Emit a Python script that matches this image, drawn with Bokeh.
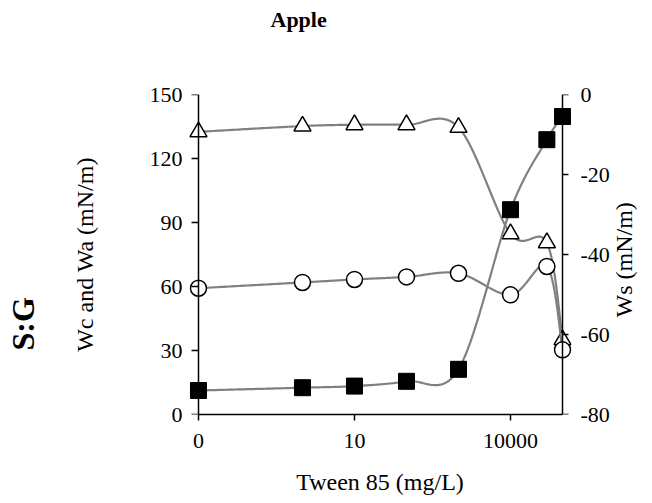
import math
import numpy as np
from bokeh.plotting import figure
from bokeh.models import Range1d, LinearAxis, FixedTicker, Title
from bokeh.embed import file_html
from bokeh.resources import INLINE

# Tween 85 concentration (mg/L); the 0 mg/L sample sits at 0.01 on the log axis
conc = [0.01, 1, 10, 100, 1000, 10000, 50000, 100000]
# work of adhesion / cohesion (left axis) and spreading coefficient (right axis), mN/m
wa = [132.5, 135.2, 135.8, 135.8, 134.6, 84.7, 80.5, 35.0]
wc = [59.2, 61.9, 63.3, 64.5, 66.2, 56.1, 69.4, 30.3]
ws = [-74.0, -73.3, -72.9, -71.7, -68.7, -28.8, -11.3, -5.5]

x_ticks = [0.01, 10, 10000]
x_tick_labels = ["0", "10", "10000"]
left_ticks = [0, 30, 60, 90, 120, 150]
right_ticks = [-80, -60, -40, -20, 0]
right_tick_labels = ["-80", "-60", "-40", "-20", "0"]

FONT = "Liberation Serif"
LINE = "#808080"
WS_TITLE_START = -55.75  # Ws value where the upright right-hand title begins


def smooth(xs, ys, n=40):
    """Catmull-Rom style smoothing in (log10 x, y) space."""
    P = np.column_stack([np.log10(xs), np.asarray(ys, float)])
    ext = np.vstack([P[0], P, P[-1]])
    out = []
    for i in range(len(P) - 1):
        p0, p1, p2, p3 = ext[i], ext[i + 1], ext[i + 2], ext[i + 3]
        c1 = p1 + (p2 - p0) / 6.0
        c2 = p2 - (p3 - p1) / 6.0
        t = np.linspace(0, 1, n, endpoint=(i == len(P) - 2))[:, None]
        seg = ((1 - t) ** 3) * p1 + 3 * ((1 - t) ** 2) * t * c1 + 3 * (1 - t) * t ** 2 * c2 + t ** 3 * p2
        out.append(seg)
    out = np.vstack(out)
    return 10 ** out[:, 0], out[:, 1]


# plot box: axes span 365 px; the frame gets a little room beyond them
AX_W = 365
PAD_L, PAD_R = 10, 9
decades = math.log10(conc[-1]) - math.log10(conc[0])

p = figure(
    width=652, height=503,
    x_axis_type="log",
    x_range=Range1d(10 ** (math.log10(conc[0]) - PAD_L * decades / AX_W),
                    10 ** (math.log10(conc[-1]) + PAD_R * decades / AX_W)),
    y_range=Range1d(0, 150),
    output_backend="svg", toolbar_location=None,
    min_border_left=198 - PAD_L, min_border_right=652 - 563 - PAD_R,
    min_border_top=94, min_border_bottom=89,
)
p.extra_y_ranges = {"ws": Range1d(-80, 0)}
p.outline_line_color = None
p.xgrid.visible = False
p.ygrid.visible = False
p.background_fill_color = "white"
p.border_fill_color = "white"

# chart title (blank lines keep it high above the plot)
p.title.text = "Apple\n \n "
p.title.align = "left"
p.title.offset = 82
p.title.vertical_align = "top"
p.title.text_font = FONT
p.title.text_font_size = "22px"
p.title.text_font_style = "bold"
p.title.text_color = "black"
p.title.text_line_height = 1.11
p.title.standoff = 10


def style_axis(ax):
    ax.axis_line_color = "black"
    ax.axis_line_width = 1.5
    ax.major_tick_line_color = "black"
    ax.major_tick_line_width = 1.5
    ax.major_tick_in = 0
    ax.major_tick_out = 7
    ax.minor_tick_in = 0
    ax.minor_tick_out = 0
    ax.major_label_text_font = FONT
    ax.major_label_text_font_size = "22px"
    ax.major_label_text_color = "black"
    ax.axis_label_text_font = FONT
    ax.axis_label_text_font_size = "24px"
    ax.axis_label_text_font_style = "normal"
    ax.axis_label_text_color = "black"


def labels_only(ax):
    ax.axis_line_color = None
    ax.major_tick_line_color = None
    ax.major_tick_out = 0


def lines_only(ax):
    ax.major_label_text_color = None
    ax.axis_label = None


# x axis
xa = p.xaxis[0]
style_axis(xa)
xa.ticker = FixedTicker(ticks=x_ticks)
xa.major_label_overrides = dict(zip(x_ticks, x_tick_labels))
xa.bounds = (conc[0], conc[-1])
xa.major_tick_out = 6
xa.major_label_standoff = 13
xa.axis_label = "Tween 85 (mg/L)"
xa.axis_label_standoff = 18

# left axis: labels at the panel edge, line and ticks at the first concentration
ya = p.yaxis[0]
style_axis(ya)
labels_only(ya)
ya.ticker = FixedTicker(ticks=left_ticks)
ya.major_label_standoff = 6
ya.axis_label = "Wc and Wa (mN/m)"
ya.axis_label_standoff = 49

ya_line = LinearAxis(ticker=FixedTicker(ticks=left_ticks), bounds=(0, 150),
                     fixed_location=conc[0])
style_axis(ya_line)
lines_only(ya_line)
p.add_layout(ya_line, "left")

# right axis (Ws): tick labels
ra = LinearAxis(y_range_name="ws", ticker=FixedTicker(ticks=right_ticks))
style_axis(ra)
labels_only(ra)
ra.major_label_overrides = dict(zip(right_ticks, right_tick_labels))
ra.major_label_standoff = 9
p.add_layout(ra, "right")

# right axis line and ticks at the last concentration
ra_line = LinearAxis(y_range_name="ws", ticker=FixedTicker(ticks=right_ticks),
                     bounds=(-80, 0), fixed_location=conc[-1])
style_axis(ra_line)
lines_only(ra_line)
ra_line.major_tick_out = 6
p.add_layout(ra_line, "right")

# right axis title, written upright (bottom to top) like the left one
ra_title = LinearAxis(y_range_name="ws", ticker=FixedTicker(ticks=[WS_TITLE_START]))
style_axis(ra_title)
labels_only(ra_title)
ra_title.major_label_overrides = {WS_TITLE_START: "Ws (mN/m)"}
ra_title.major_label_text_font_size = "24px"
ra_title.major_label_orientation = math.pi / 2
ra_title.major_label_standoff = 11
p.add_layout(ra_title, "right")

# row label
p.add_layout(Title(text="S:G\n ", align="left", offset=64, vertical_align="top",
                   text_font=FONT, text_font_size="32px", text_font_style="bold",
                   text_color="black", text_line_height=0.63, standoff=6), "left")

# Wa - open triangles
sx, sy = smooth(conc, wa)
p.line(sx, sy, line_color=LINE, line_width=2.2)
p.scatter(conc, wa, marker="triangle", size=17, fill_color="white",
          line_color="black", line_width=1.5)

# Wc - open circles
sx, sy = smooth(conc, wc)
p.line(sx, sy, line_color=LINE, line_width=2.2)
p.scatter(conc, wc, marker="circle", size=16, fill_color="white",
          line_color="black", line_width=1.5)

# Ws - filled squares on the right axis
sx, sy = smooth(conc, ws)
p.line(sx, sy, line_color=LINE, line_width=2.2, y_range_name="ws")
p.scatter(conc, ws, marker="square", size=16, fill_color="black",
          line_color="black", line_width=1, y_range_name="ws")

open("out.html", "w").write(file_html(p, INLINE))
